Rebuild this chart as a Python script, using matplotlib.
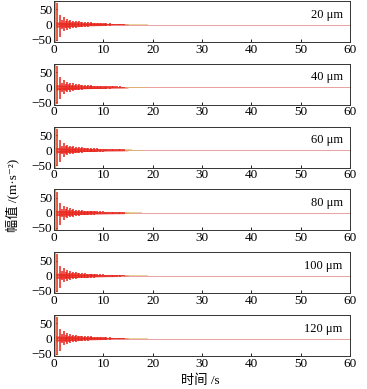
import matplotlib.pyplot as plt

# groove depth of each test
depths = ["20 μm", "40 μm", "60 μm", "80 μm", "100 μm", "120 μm"]

# main bursts (time s, upper / lower peak m/s^2)
burst_t = [0.6, 1.3, 1.7, 2.0, 2.4, 2.7, 3.0, 3.3, 3.6, 3.9, 4.2, 4.5, 4.8, 5.1,
           5.4, 5.7, 6.0, 6.3, 6.6, 6.9, 7.2, 7.5, 7.8, 8.1, 8.4, 8.7, 9.0, 9.3,
           9.6, 9.9, 10.3, 10.6, 11.0, 11.3, 11.7, 12.0, 12.4, 12.7, 13.1, 13.4,
           13.8, 14.1]
burst_up = [72, 33, 14, 24, 12, 18, 10, 15, 9, 13, 8, 11, 8, 10, 7, 9, 6, 8, 6,
            7, 5, 7, 5, 6, 5, 6, 4, 5, 4, 5, 4, 4, 3, 4, 3, 3, 3, 3, 2.5, 3, 2.5, 2.5]
burst_dn = [-55, -40, -14, -22, -12, -17, -10, -14, -9, -12, -8, -10, -8, -9,
            -7, -8, -6, -7, -6, -7, -5, -6, -5, -6, -5, -5, -4, -5, -4, -5, -4,
            -4, -3, -4, -3, -3, -3, -3, -2.5, -3, -2.5, -2.5]
# first spike differs a little from panel to panel
first_up = [72, 70, 70, 68, 72, 72]
first_dn = [-55, -55, -54, -56, -55, -56]

# fading tail
tail_t = [14.5, 14.9, 15.3, 15.7, 16.1, 16.5, 16.9, 17.3, 17.7, 18.1, 18.5, 18.9]
tail_amp = [2.5, 2.4, 2.3, 2.2, 2.0, 1.9, 1.8, 1.6, 1.5, 1.3, 1.1, 1.0]

# background band around the bursts
band_t = [0.3, 2, 5, 8, 11, 14, 15]
band_a = [9, 7, 5, 4, 3, 2.5, 2]

trigger_t = 0.25
base_t = [0, 60]
base_v = [0, 0]

xticks = [0, 10, 20, 30, 40, 50, 60]
yticks = [-50, 0, 50]

plt.rcParams['font.family'] = ['Liberation Serif', 'Noto Sans CJK SC', 'DejaVu Sans']
plt.rcParams['font.size'] = 9

red = '#e8231a'
W, H = 367, 389
fig = plt.figure(figsize=(W / 100, H / 100), dpi=100)

for i, lab in enumerate(depths):
    top = 1 + 62.8 * i
    ax = fig.add_axes([54 / W, 1 - (top + 41) / H, 296 / W, 41 / H])
    ax.plot(base_t, base_v, color='#e89090', lw=0.6)
    ax.fill_between(band_t, [-a for a in band_a], band_a, color=red, lw=0, alpha=0.8)
    ups = [first_up[i]] + burst_up[1:]
    dns = [first_dn[i]] + burst_dn[1:]
    ax.vlines(burst_t, dns, ups, color=red, lw=1.1)
    ax.vlines(tail_t, [-a for a in tail_amp], tail_amp, color='#d8b860', lw=1.1, alpha=0.8)
    ax.axvline(trigger_t, color='#f0a030', lw=1.0)
    ax.set_xlim(0, 60)
    ax.set_ylim(-58, 78)
    ax.set_xticks(xticks)
    ax.set_yticks(yticks)
    ax.tick_params(direction='in', length=2.5, width=0.6, pad=1.2, labelsize=9.5)
    for s in ax.spines.values():
        s.set_linewidth(0.7)
        s.set_color('#333333')
    ax.text(58.5, 33, lab, ha='right', va='center', fontsize=9)

fig.text(12 / W, 1 - 195 / H, '幅值 /(m·s⁻²)', rotation=90, ha='center', va='center',
         fontsize=9.5)
fig.text(200 / W, 1 - 381 / H, '时间 /s', ha='center', va='center', fontsize=9.5)

fig.savefig('out.png', dpi=100)
